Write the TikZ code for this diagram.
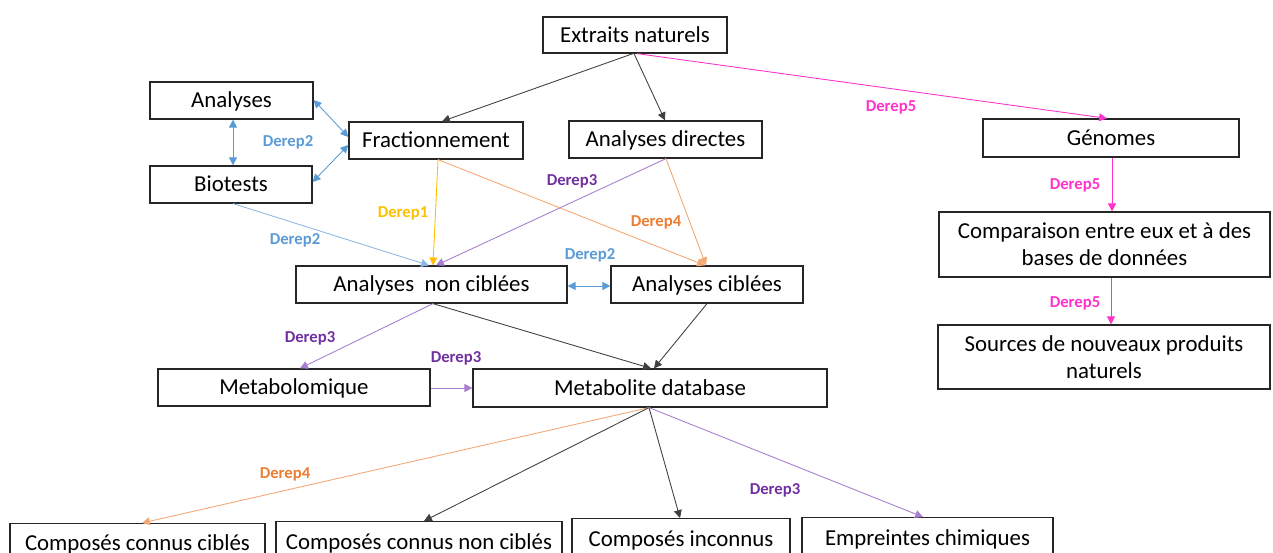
\documentclass[tikz,border=0pt]{standalone}
\usepackage{fontspec}
\setmainfont{Carlito}
\usetikzlibrary{arrows.meta,calc}
\definecolor{cblue}{HTML}{5B9BD5}
\definecolor{cyellow}{HTML}{FFC000}
\definecolor{corange}{HTML}{ED7D31}
\definecolor{cpurple}{HTML}{7030A0}
\definecolor{lpurple}{HTML}{A67FCF}
\definecolor{cpink}{HTML}{FF33CC}
\definecolor{lorange}{HTML}{F4A874}
\definecolor{lblue}{HTML}{8DB9E3}
\tikzset{
  mbox/.style={draw=black!85, line width=0.7pt, inner sep=0pt, font=\fontsize{13}{15.5}\selectfont, align=center},
  box/.style={mbox, text height=0.8em, text depth=0em},
  btxt/.style={font=\fontsize{13}{15.5}\selectfont, inner sep=0pt, text height=0.8em, text depth=0em},
  arr/.style={-{Triangle[width=4.5pt,length=4.5pt]}, line width=0.5pt},
  darr/.style={{Triangle[width=4.5pt,length=4.5pt]}-{Triangle[width=4.5pt,length=4.5pt]}, line width=0.5pt},
  lab/.style={font=\fontsize{9.5}{11}\selectfont\bfseries, inner sep=0pt},
}
\newcommand{\bx}[7][box]{\node[#1, minimum width={(#5-#3)*0.02cm}, minimum height={(#6-#4)*0.02cm}] (#2) at ({(#3+#5)/2},{(#4+#6)/2}) {#7};}
\begin{document}
\begin{tikzpicture}[x=0.02cm,y=-0.02cm]
\useasboundingbox (0,0) rectangle (1273,553);
\clip (0,0) rectangle (1273,553);
\bx{ext}{543}{17}{727}{53}{Extraits naturels}
\bx{ana}{150}{82}{313}{119}{Analyses}
\bx{frac}{349}{122}{523}{159}{Fractionnement}
\bx{adir}{569}{121}{762}{158}{Analyses directes}
\bx{gen}{983}{119}{1239}{157}{Génomes}
\bx{bio}{150}{166}{312}{203}{Biotests}
\bx[mbox]{comp}{939}{212}{1270}{277}{Comparaison entre eux et à des\\bases de données}
\bx{anc}{296}{266}{567}{303}{Analyses\ \ non ciblées}
\bx{ac}{611}{266}{803}{303}{Analyses ciblées}
\bx[mbox]{src}{938}{325}{1270}{389}{Sources de nouveaux produits\\naturels}
\bx{metab}{158}{369}{430}{406}{Metabolomique}
\bx{mdb}{473}{369}{827}{407}{Metabolite database}
\node[draw=black!85, line width=0.7pt, minimum width={255*0.02cm}, minimum height={45*0.02cm}, anchor=north] (ccc) at (137.5,523) {};
\node[draw=black!85, line width=0.7pt, minimum width={286*0.02cm}, minimum height={45*0.02cm}, anchor=north] (ccnc) at (419,521) {};
\node[draw=black!85, line width=0.7pt, minimum width={218*0.02cm}, minimum height={48*0.02cm}, anchor=north] (ci) at (681,518) {};
\node[draw=black!85, line width=0.7pt, minimum width={251*0.02cm}, minimum height={49*0.02cm}, anchor=north] (emp) at (927.5,517) {};
\node[btxt] (tccc) at (137.5,543) {Composés connus ciblés};
\node[btxt] (tccnc) at (419,542) {Composés connus non ciblés};
\node[btxt] (tci) at (681,539) {Composés inconnus};
\node[btxt] (temp) at (927.5,538) {Empreintes chimiques};
% connectors
\draw[arr, black!75] (ext.south -| 633,0) -- (frac.north -| 442,0);
\draw[arr, black!75] (ext.south -| 634,0) -- (adir.north -| 665,0);
\draw[arr, cpink] (ext.south -| 637,0) -- (gen.north -| 1107,0);
\draw[darr, cblue] (ana.east |- 0,100) -- (frac.west |- 0,137);
\draw[darr, cblue] (bio.east |- 0,182) -- (frac.west |- 0,145);
\draw[darr, cblue] (ana.south -| 233,0) -- (bio.north -| 233,0);
\draw[arr, lblue] (bio.south -| 233,0) -- (anc.north -| 429,0);
\draw[arr, cyellow] (frac.south -| 438,0) -- (anc.north -| 433,0);
\draw[arr, lpurple] (adir.south -| 666,0) -- (anc.north -| 436,0);
\draw[arr, lorange] (frac.south -| 438,0) -- (ac.north -| 705,0);
\draw[arr, lorange] (adir.south -| 666,0) -- (ac.north -| 706,0);
\draw[darr, cblue] (anc.east |- 0,286) -- (ac.west |- 0,286);
\draw[arr, black!75] (anc.south -| 433,0) -- (mdb.north -| 651,0);
\draw[arr, black!75] (ac.south -| 707,0) -- (mdb.north -| 654,0);
\draw[arr, lpurple] (anc.south -| 433,0) -- (metab.north -| 300,0);
\draw[arr, lpurple] (metab.east |- 0,388) -- (mdb.west |- 0,388);
\draw[arr, lorange] (mdb.south -| 649,0) -- (ccc.north -| 142,0);
\draw[arr, black!75] (mdb.south -| 649,0) -- (ccnc.north -| 424,0);
\draw[arr, black!75] (mdb.south -| 649,0) -- (ci.north -| 680,0);
\draw[arr, lpurple] (mdb.south -| 649,0) -- (emp.north -| 923,0);
\draw[arr, cpink] (gen.south -| 1112,0) -- (comp.north -| 1112,0);
\draw[arr, cpink] (comp.south -| 1111,0) -- (src.north -| 1111,0);
% labels
\node[lab, text=cblue] (l1) at (288,142) {Derep2};
\node[lab, text=cblue] (l2) at (295,240) {Derep2};
\node[lab, text=cyellow] (l3) at (403,213) {Derep1};
\node[lab, text=cpurple] (l4) at (572,181) {Derep3};
\node[lab, text=corange] (l5) at (656,222) {Derep4};
\node[lab, text=cblue] (l6) at (590,255) {Derep2};
\node[lab, text=cpurple] (l7) at (310,338) {Derep3};
\node[lab, text=cpurple] (l8) at (456,358) {Derep3};
\node[lab, text=corange] (l9) at (285,474) {Derep4};
\node[lab, text=cpurple] (l10) at (775,490) {Derep3};
\node[lab, text=cpink] (l11) at (891,107) {Derep5};
\node[lab, text=cpink] (l12) at (1075,185) {Derep5};
\node[lab, text=cpink] (l13) at (1075,303) {Derep5};
\end{tikzpicture}
\end{document}
